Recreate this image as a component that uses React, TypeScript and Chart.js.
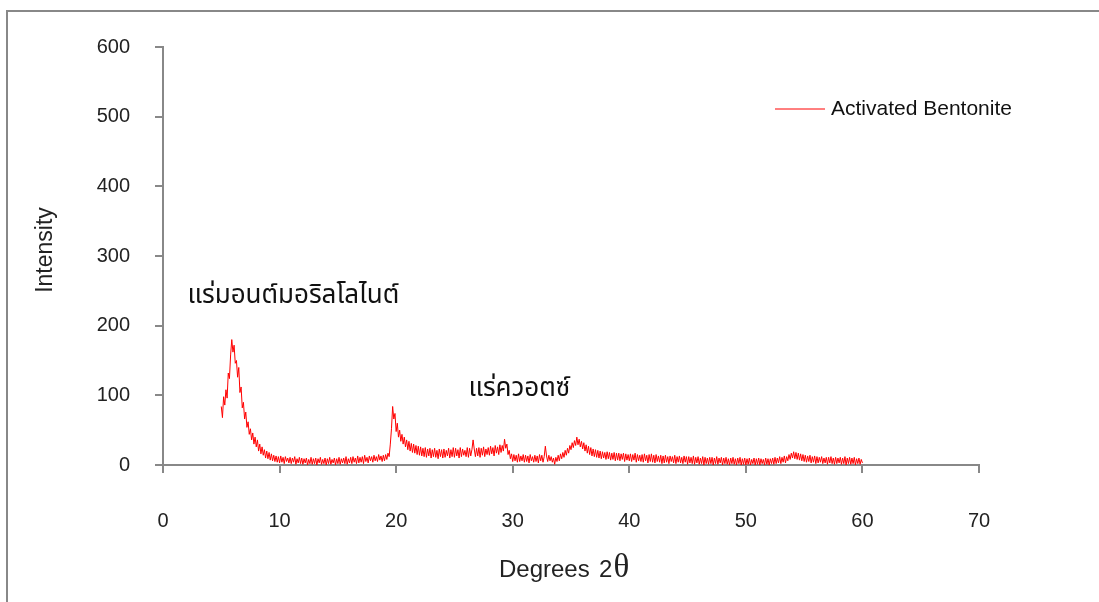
import React, { useEffect, useRef } from "react";
import { Chart, registerables } from "chart.js";

Chart.register(...registerables);

// XRD scan: 2θ from 5.0° to 60.0° in 0.1° steps
const X_START = 5;
const X_STEP = 0.1;

const intensity: number[] = [
  84, 68, 98, 86, 108, 96, 132, 124, 158, 180,
  162, 172, 146, 150, 126, 140, 104, 112, 82, 90,
  66, 76, 54, 62, 44, 52, 36, 46, 30, 40,
  26, 36, 20, 30, 16, 26, 14, 22, 10, 20,
  9, 18, 7, 16, 6, 14, 5, 13, 4, 12,
  3, 13, 4, 11, 2, 12, 5, 10, 3, 11,
  2, 10, 4, 12, 1, 9, 3, 11, 2, 10,
  1, 9, 3, 10, 0, 8, 2, 11, 1, 9,
  2, 10, 0, 9, 3, 11, 1, 8, 2, 10,
  0, 9, 2, 11, 1, 8, 3, 10, 0, 9,
  2, 11, 1, 9, 3, 10, 2, 12, 1, 9,
  3, 11, 2, 12, 4, 10, 2, 13, 3, 11,
  4, 12, 2, 14, 5, 11, 3, 13, 6, 12,
  4, 14, 6, 12, 5, 15, 7, 13, 5, 14,
  6, 15, 8, 17, 12, 30, 52, 84, 66, 74,
  48, 60, 40, 50, 34, 44, 30, 40, 26, 36,
  22, 34, 20, 31, 18, 30, 17, 28, 15, 27,
  14, 26, 13, 24, 12, 25, 11, 23, 13, 24,
  10, 22, 12, 24, 11, 21, 9, 23, 12, 22,
  10, 23, 11, 21, 13, 24, 10, 22, 12, 25,
  11, 24, 13, 22, 10, 25, 12, 23, 14, 21,
  12, 25, 11, 24, 13, 22, 36, 23, 12, 24,
  13, 25, 11, 24, 14, 26, 12, 23, 15, 25,
  14, 27, 16, 25, 13, 28, 17, 26, 15, 29,
  18, 28, 20, 37, 24, 30, 15, 21, 9, 16,
  5, 15, 6, 14, 4, 16, 5, 13, 6, 15,
  4, 14, 5, 13, 3, 15, 6, 12, 4, 14,
  5, 13, 3, 15, 6, 14, 4, 12, 27, 13,
  5, 14, 6, 12, 4, 10, 1, 11, 5, 14,
  6, 16, 9, 18, 11, 21, 14, 24, 17, 28,
  22, 32, 25, 35, 28, 40, 29, 37, 26, 34,
  23, 32, 20, 29, 17, 27, 15, 25, 13, 23,
  12, 22, 11, 21, 10, 20, 9, 19, 10, 18,
  8, 19, 9, 18, 7, 17, 8, 18, 6, 17,
  7, 17, 6, 16, 8, 17, 5, 16, 7, 15,
  6, 16, 5, 15, 7, 17, 4, 15, 6, 14,
  5, 15, 4, 16, 6, 14, 3, 15, 5, 16,
  4, 14, 3, 15, 5, 13, 4, 14, 2, 13,
  3, 14, 4, 12, 2, 13, 5, 12, 3, 14,
  2, 12, 4, 13, 3, 11, 2, 13, 4, 12,
  1, 12, 3, 11, 2, 13, 1, 11, 3, 12,
  1, 10, 2, 12, 0, 11, 2, 10, 1, 11,
  2, 11, 0, 10, 2, 12, 1, 10, 3, 11,
  0, 10, 2, 11, 1, 9, 0, 10, 2, 11,
  1, 9, 0, 10, 2, 11, 0, 9, 1, 10,
  0, 9, 1, 10, 0, 8, 2, 10, 0, 9,
  1, 10, 0, 9, 2, 8, 0, 10, 1, 9,
  0, 9, 2, 10, 1, 11, 2, 10, 3, 12,
  2, 11, 4, 13, 3, 12, 6, 15, 8, 17,
  10, 19, 9, 18, 8, 17, 7, 16, 6, 15,
  5, 14, 4, 13, 5, 14, 3, 12, 4, 13,
  2, 12, 3, 11, 4, 12, 2, 10, 3, 11,
  1, 11, 3, 12, 2, 10, 1, 11, 2, 10,
  3, 11, 1, 10, 2, 12, 0, 10, 2, 11,
  1, 10, 2, 11, 0, 9, 2, 10, 1, 8,
  3,
];

const X_MIN = 0;
const X_MAX = 70;
const X_TICK_STEP = 10;
const Y_MIN = 0;
const Y_MAX = 600;
const Y_TICK_STEP = 100;

const SERIES_LABEL = "Activated Bentonite";
const X_TITLE = "Degrees";
const X_TITLE_SUFFIX = "2";
const X_TITLE_SYMBOL = "θ";
const Y_TITLE = "Intensity";

const annotationTexts = ["แร่มอนต์มอริลโลไนต์", "แร่ควอตซ์"];
const annotationX = [2.1, 26.2];
const annotationY = [240, 106];

const SANS = '"Liberation Sans", Arial, Helvetica, sans-serif';
const SERIF = '"Liberation Serif", "Times New Roman", serif';
const THAI = '"Noto Sans Thai", "Noto Sans Thai Looped", Loma, Garuda, "Tlwg Typo", "Noto Sans", sans-serif';
const AXIS_GREY = "#888888";
const TEXT = "#222222";

export default function App() {
  const ref = useRef<HTMLCanvasElement | null>(null);

  useEffect(() => {
    document.body.style.margin = "0";
    const canvas = ref.current;
    if (!canvas) return;

    const points = intensity.map((v, i) => ({
      x: Number((X_START + i * X_STEP).toFixed(1)),
      y: v,
    }));

    const decor = {
      id: "decor",
      beforeDraw(chart: any) {
        const ctx = chart.ctx;
        ctx.save();
        ctx.fillStyle = "#ffffff";
        ctx.fillRect(0, 0, chart.width, chart.height);
        ctx.fillStyle = AXIS_GREY;
        ctx.fillRect(6, 10, chart.width, 2);
        ctx.fillRect(6, 10, 2, chart.height);
        ctx.restore();
      },
      afterDraw(chart: any) {
        const ctx = chart.ctx;
        const xs = chart.scales.x;
        const ys = chart.scales.y;
        ctx.save();
        // Y title
        ctx.fillStyle = TEXT;
        ctx.font = `23px ${SANS}`;
        ctx.textAlign = "center";
        ctx.textBaseline = "middle";
        ctx.translate(46, 250);
        ctx.rotate(-Math.PI / 2);
        ctx.fillText(Y_TITLE, 0, 0);
        ctx.setTransform(1, 0, 0, 1, 0, 0);

        // X title
        ctx.textAlign = "left";
        ctx.textBaseline = "alphabetic";
        ctx.font = `24px ${SANS}`;
        const tx = 499;
        const ty = 577;
        ctx.fillText(X_TITLE, tx, ty);
        const w1 = ctx.measureText(X_TITLE + "  ").width;
        ctx.fillText(X_TITLE_SUFFIX, tx + w1 - 4, ty);
        const w2 = ctx.measureText(X_TITLE_SUFFIX).width;
        ctx.font = `33px ${SERIF}`;
        ctx.fillText(X_TITLE_SYMBOL, tx + w1 + w2 - 3, ty);

        // Legend
        ctx.strokeStyle = "#ff0000";
        ctx.lineWidth = 1;
        ctx.beginPath();
        ctx.moveTo(775, 109);
        ctx.lineTo(825, 109);
        ctx.stroke();
        ctx.font = `21px ${SANS}`;
        ctx.fillStyle = "#111111";
        ctx.fillText(SERIES_LABEL, 831, 115);

        // Annotations
        ctx.font = `26px ${THAI}`;
        ctx.fillStyle = "#111111";
        ctx.textBaseline = "middle";
        annotationTexts.forEach((t, i) => {
          ctx.fillText(t, xs.getPixelForValue(annotationX[i]), ys.getPixelForValue(annotationY[i]));
        });
        ctx.restore();
      },
    };

    const chart = new Chart(canvas, {
      type: "line",
      data: {
        datasets: [
          {
            label: SERIES_LABEL,
            data: points,
            borderColor: "#ff0000",
            borderWidth: 1,
            pointRadius: 0,
            tension: 0,
            fill: false,
          },
        ],
      },
      options: {
        responsive: false,
        animation: false,
        devicePixelRatio: 1,
        layout: { padding: { left: 0, top: 47, right: 120, bottom: 0 } },
        plugins: {
          legend: { display: false },
          tooltip: { enabled: false },
        },
        scales: {
          x: {
            type: "linear",
            min: X_MIN,
            max: X_MAX,
            afterFit(scale: any) {
              scale.height = 137;
            },
            ticks: {
              stepSize: X_TICK_STEP,
              color: TEXT,
              font: { family: SANS, size: 20 },
              padding: 36,
              maxRotation: 0,
            },
            grid: {
              drawOnChartArea: false,
              drawTicks: true,
              tickLength: 8,
              color: AXIS_GREY,
              lineWidth: 2,
            },
            border: { color: AXIS_GREY, width: 2 },
          },
          y: {
            type: "linear",
            min: Y_MIN,
            max: Y_MAX,
            afterFit(scale: any) {
              scale.width = 163;
            },
            ticks: {
              stepSize: Y_TICK_STEP,
              color: TEXT,
              font: { family: SANS, size: 20 },
              padding: 25,
            },
            grid: {
              drawOnChartArea: false,
              drawTicks: true,
              tickLength: 8,
              color: AXIS_GREY,
              lineWidth: 2,
            },
            border: { color: AXIS_GREY, width: 2 },
          },
        },
      },
      plugins: [decor],
    });

    return () => chart.destroy();
  }, []);

  return <canvas ref={ref} width={1099} height={602} style={{ display: "block" }} />;
}
